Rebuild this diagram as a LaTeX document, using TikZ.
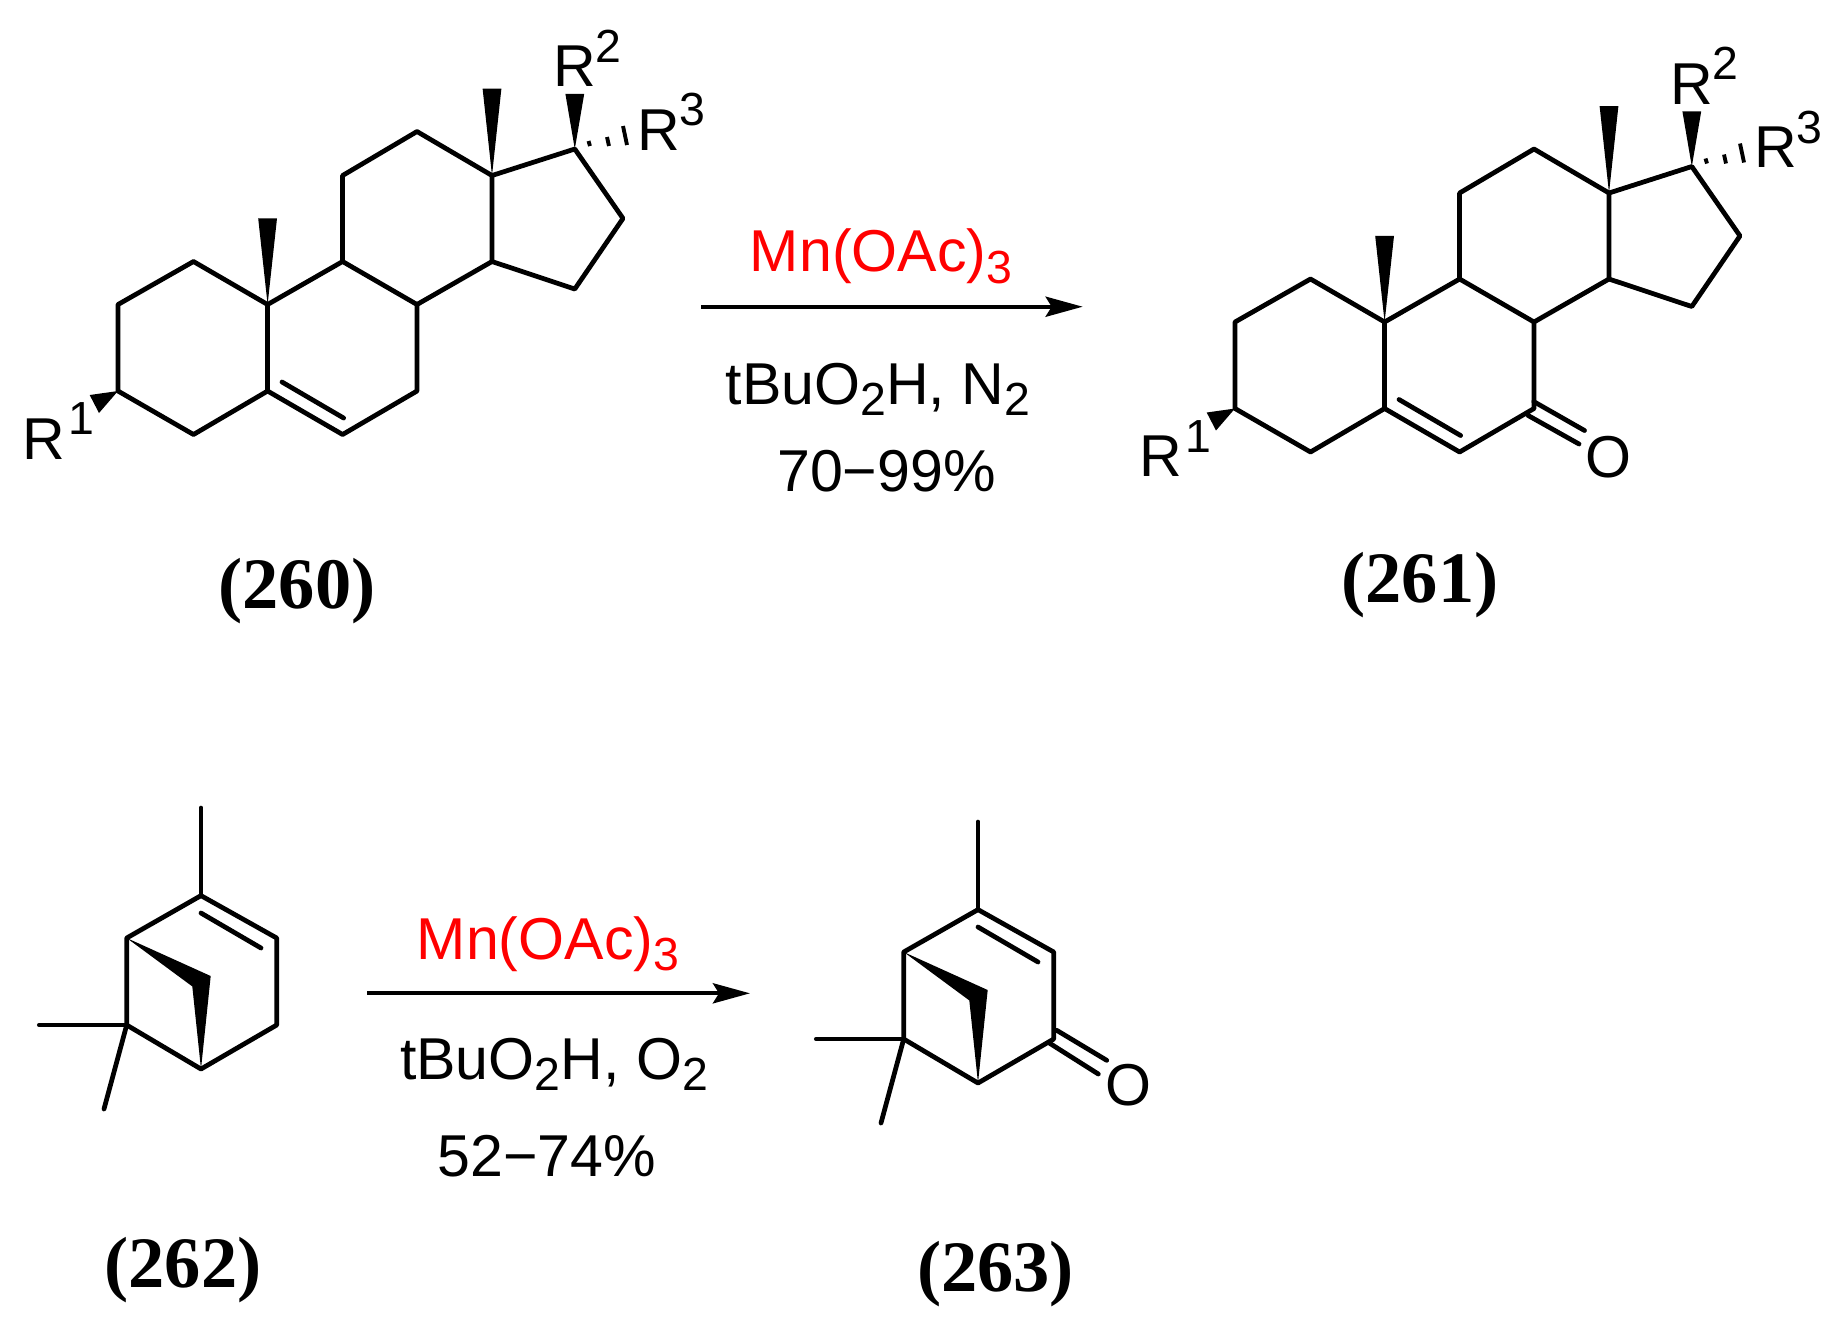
\documentclass[tikz,border=0pt]{standalone}
\usepackage{fontspec}
\setmainfont{Liberation Sans}
\newfontfamily\tagfont{Liberation Serif}
\usetikzlibrary{arrows.meta}

\newcommand{\lowsub}[1]{\raisebox{-0.115cm}{\fontsize{13.2pt}{14pt}\selectfont #1}}
\newcommand{\highsup}[1]{\raisebox{0.245cm}{\fontsize{13.2pt}{14pt}\selectfont #1}}

\tikzset{
    bond/.style={line width=1.35pt, line cap=round, line join=round},
    wedge/.style={fill=black, draw=none},
    hashbond/.style={line width=1.1pt},
    rxn/.style={line width=1.2pt, -{Stealth[length=0.37cm, width=0.2cm, inset=0.06cm]}},
    chem/.style={inner sep=0pt, anchor=base, font=\fontsize{16.8pt}{18pt}\selectfont},
    reagent/.style={chem, text=red},
    tag/.style={inner sep=0pt, anchor=base, font=\fontsize{20.6pt}{22pt}\selectfont\tagfont\bfseries}
}

\begin{document}
\begin{tikzpicture}[x=0.01cm, y=-0.01cm]
    \useasboundingbox (0,0) rectangle (1836,1341);

    % 260
    \coordinate (a1) at (118,304.5);
    \coordinate (a2) at (193.5,261.5);
    \coordinate (a3) at (267.6,304.5);
    \coordinate (a4) at (267.6,391);
    \coordinate (a5) at (193.5,434.5);
    \coordinate (a6) at (118,391);
    \coordinate (a7) at (342.6,434.5);
    \coordinate (a8) at (417,391);
    \coordinate (a9) at (417,304.5);
    \coordinate (a10) at (342.6,261.5);
    \coordinate (a11) at (342.6,175.5);
    \coordinate (a12) at (417,131.5);
    \coordinate (a13) at (492,175.5);
    \coordinate (a14) at (492,261.5);
    \coordinate (a15) at (574.8,289);
    \coordinate (a16) at (623,218.4);
    \coordinate (a17) at (574.8,149);

    \draw[bond] (a6) -- (a1) -- (a2) -- (a3) -- (a4) -- (a5) -- (a6);
    \draw[bond] (a4) -- (a7) -- (a8) -- (a9) -- (a10) -- (a3);
    \draw[bond] (a10) -- (a11) -- (a12) -- (a13) -- (a14) -- (a9);
    \draw[bond] (a14) -- (a15) -- (a16) -- (a17) -- (a13);
    \draw[bond] (282,382) -- (343.6,418);

    \fill[wedge] (a3) -- (258.2,218.4) -- (277,218.4) -- cycle;
    \fill[wedge] (a13) -- (482.6,88.6) -- (501.4,88.6) -- cycle;
    \fill[wedge] (a17) -- (565.4,93.9) -- (584.2,93.9) -- cycle;
    \fill[wedge] (a6) -- (89.7,395) -- (99,413) -- cycle;

    \draw[hashbond] (588.5,141) -- (590,146);
    \draw[hashbond] (607,137) -- (609,146);
    \draw[hashbond] (623,126) -- (627,145);

    \node[chem, anchor=base west] (r1a) at (22,459) {R\hspace{0.03cm}\highsup{1}};
    \node[chem, anchor=base west] (r2a) at (552.5,86.5) {R\highsup{2}};
    \node[chem, anchor=base west] (r3a) at (636.5,150) {R\highsup{3}};
    \node[tag] (t260) at (297,608) {(260)};

    % first reaction
    \coordinate (s1) at (701,306.7);
    \coordinate (e1) at (1082.7,306.7);
    \draw[rxn] (s1) -- (e1);
    \node[reagent] (m1) at (881,271.7) {Mn(OAc)\lowsub{3}};
    \node[chem] (b1) at (878,404) {tBuO\lowsub{2}H, N\lowsub{2}};
    \node[chem] (y1) at (886.5,491.7) {70−99\%};

    % 261
    \coordinate (b1a) at (1235,322);
    \coordinate (b2) at (1310.5,279);
    \coordinate (b3) at (1384.6,322);
    \coordinate (b4) at (1384.6,408.5);
    \coordinate (b5) at (1310.5,452);
    \coordinate (b6) at (1235,408.5);
    \coordinate (b7) at (1459.6,452);
    \coordinate (b8) at (1534,408.5);
    \coordinate (b9) at (1534,322);
    \coordinate (b10) at (1459.6,279);
    \coordinate (b11) at (1459.6,193);
    \coordinate (b12) at (1534,149);
    \coordinate (b13) at (1609,193);
    \coordinate (b14) at (1609,279);
    \coordinate (b15) at (1691.8,306.5);
    \coordinate (b16) at (1740,235.9);
    \coordinate (b17) at (1691.8,166.5);

    \draw[bond] (b6) -- (b1a) -- (b2) -- (b3) -- (b4) -- (b5) -- (b6);
    \draw[bond] (b4) -- (b7) -- (b8) -- (b9) -- (b10) -- (b3);
    \draw[bond] (b10) -- (b11) -- (b12) -- (b13) -- (b14) -- (b9);
    \draw[bond] (b14) -- (b15) -- (b16) -- (b17) -- (b13);
    \draw[bond] (1399,399.5) -- (1460.6,435.5);
    \draw[bond] (1533.8,401.6) -- (1584.5,430.5);
    \draw[bond] (1528,415.4) -- (1579,444);

    \fill[wedge] (b3) -- (1375.2,235.9) -- (1394,235.9) -- cycle;
    \fill[wedge] (b13) -- (1599.6,106.1) -- (1618.4,106.1) -- cycle;
    \fill[wedge] (b17) -- (1682.4,111.4) -- (1701.2,111.4) -- cycle;
    \fill[wedge] (b6) -- (1206.7,412.5) -- (1216,430.5) -- cycle;

    \draw[hashbond] (1705.5,158.5) -- (1707,163.5);
    \draw[hashbond] (1724,154.5) -- (1726,163.5);
    \draw[hashbond] (1740,143.5) -- (1744,162.5);

    \node[chem, anchor=base west] (r1b) at (1139,476.5) {R\hspace{0.03cm}\highsup{1}};
    \node[chem, anchor=base west] (r2b) at (1669.5,104) {R\highsup{2}};
    \node[chem, anchor=base west] (r3b) at (1753.5,167.5) {R\highsup{3}};
    \node[chem] (o1) at (1608.5,477) {O};
    \node[tag] (t261) at (1420,602.5) {(261)};

    % 262
    \coordinate (c1) at (201,895.6);
    \coordinate (c2) at (276.7,938);
    \coordinate (c3) at (276.7,1025);
    \coordinate (c4) at (201,1069);
    \coordinate (c5) at (126.7,1025);
    \coordinate (c6) at (126.7,938);
    \coordinate (c7) at (201,808);
    \coordinate (c8) at (39.3,1025);
    \coordinate (c9) at (104,1109);

    \draw[bond] (c1) -- (c2) -- (c3) -- (c4) -- (c5) -- (c6) -- cycle;
    \draw[bond] (c1) -- (c7);
    \draw[bond] (c5) -- (c8);
    \draw[bond] (c5) -- (c9);
    \draw[bond] (201,913) -- (261,948);
    \fill[wedge] (c6) -- (210.7,976) -- (c4) -- (192.3,986.4) -- cycle;
    \node[tag] (t262) at (183,1287) {(262)};

    % second reaction
    \coordinate (s2) at (367,993.3);
    \coordinate (e2) at (750,993.3);
    \draw[rxn] (s2) -- (e2);
    \node[reagent] (m2) at (548,959) {Mn(OAc)\lowsub{3}};
    \node[chem] (b2a) at (554,1079) {tBuO\lowsub{2}H, O\lowsub{2}};
    \node[chem] (y2) at (547,1176.7) {52−74\%};

    % 263
    \coordinate (d1) at (978,909.6);
    \coordinate (d2) at (1053.7,952);
    \coordinate (d3) at (1053.7,1039);
    \coordinate (d4) at (978,1083);
    \coordinate (d5) at (903.7,1039);
    \coordinate (d6) at (903.7,952);
    \coordinate (d7) at (978,822);
    \coordinate (d8) at (816.3,1039);
    \coordinate (d9) at (881,1123);

    \draw[bond] (d1) -- (d2) -- (d3) -- (d4) -- (d5) -- (d6) -- cycle;
    \draw[bond] (d1) -- (d7);
    \draw[bond] (d5) -- (d8);
    \draw[bond] (d5) -- (d9);
    \draw[bond] (978,927) -- (1038,962);
    \draw[bond] (1056.7,1030.3) -- (1106.7,1060.3);
    \draw[bond] (1049.3,1043) -- (1098.3,1074);
    \fill[wedge] (d6) -- (987.7,990) -- (d4) -- (969.3,1000.4) -- cycle;
    \node[chem] (o2) at (1128,1105) {O};
    \node[tag] (t263) at (995.5,1291) {(263)};
\end{tikzpicture}
\end{document}
